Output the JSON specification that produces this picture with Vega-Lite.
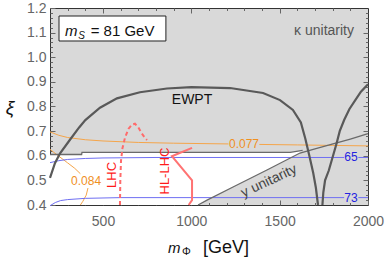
{
 "$schema": "https://vega.github.io/schema/vega-lite/v6.json",
 "width": 318, "height": 197,
 "autosize": {"type": "none"},
 "padding": {"left": 50, "top": 8, "right": 20, "bottom": 52},
 "background": "white",
 "config": {
  "view": {"fill": "#d9d9d9", "stroke": "#333333", "strokeWidth": 1},
  "font": "Liberation Sans",
  "axis": {"grid": false, "domain": false, "labelFont": "Liberation Sans", "labelFontSize": 14, "labelColor": "#666666", "tickColor": "#666666", "tickWidth": 1, "labelFlush": false, "labelOverlap": false}
 },
 "resolve": {"axis": {"x": "independent", "y": "independent"}},
 "datasets": {
  "white": [
   {"m": 200, "lo": 0.4, "hi": 0.605},
   {"m": 379, "lo": 0.4, "hi": 0.605},
   {"m": 381, "lo": 0.4, "hi": 0.614},
   {"m": 1038, "lo": 0.4, "hi": 0.614},
   {"m": 1089, "lo": 0.42, "hi": 0.614},
   {"m": 1236, "lo": 0.473, "hi": 0.614},
   {"m": 1428, "lo": 0.542, "hi": 0.614},
   {"m": 1560, "lo": 0.59, "hi": 0.615},
   {"m": 1615, "lo": 0.611, "hi": 0.619},
   {"m": 1630, "lo": 0.621, "hi": 0.622}
  ],
  "orange": [
   {"s": "a", "m": 200, "xi": 0.697}, {"s": "a", "m": 250, "xi": 0.683}, {"s": "a", "m": 300, "xi": 0.674}, {"s": "a", "m": 400, "xi": 0.665}, {"s": "a", "m": 500, "xi": 0.66}, {"s": "a", "m": 700, "xi": 0.654}, {"s": "a", "m": 900, "xi": 0.651}, {"s": "a", "m": 1100, "xi": 0.649}, {"s": "a", "m": 1210, "xi": 0.648},
   {"s": "b", "m": 1385, "xi": 0.646}, {"s": "b", "m": 1600, "xi": 0.644}, {"s": "b", "m": 1800, "xi": 0.642}, {"s": "b", "m": 2000, "xi": 0.64},
   {"s": "c", "m": 200, "xi": 0.626}, {"s": "c", "m": 250, "xi": 0.598}, {"s": "c", "m": 300, "xi": 0.571}, {"s": "c", "m": 340, "xi": 0.549}, {"s": "c", "m": 372, "xi": 0.527},
   {"s": "d", "m": 415, "xi": 0.469}, {"s": "d", "m": 405, "xi": 0.44}, {"s": "d", "m": 386, "xi": 0.415}, {"s": "d", "m": 372, "xi": 0.4}
  ],
  "blue": [
   {"s": "a", "m": 200, "xi": 0.572}, {"s": "a", "m": 250, "xi": 0.58}, {"s": "a", "m": 300, "xi": 0.585}, {"s": "a", "m": 400, "xi": 0.589}, {"s": "a", "m": 500, "xi": 0.591}, {"s": "a", "m": 800, "xi": 0.593}, {"s": "a", "m": 1865, "xi": 0.593},
   {"s": "b", "m": 1945, "xi": 0.593}, {"s": "b", "m": 2000, "xi": 0.593},
   {"s": "c", "m": 200, "xi": 0.397}, {"s": "c", "m": 230, "xi": 0.41}, {"s": "c", "m": 260, "xi": 0.418}, {"s": "c", "m": 300, "xi": 0.422}, {"s": "c", "m": 400, "xi": 0.427}, {"s": "c", "m": 600, "xi": 0.43}, {"s": "c", "m": 1865, "xi": 0.43},
   {"s": "d", "m": 1945, "xi": 0.43}, {"s": "d", "m": 2000, "xi": 0.43}
  ],
  "bounds": [
   {"s": "yu", "m": 1038, "xi": 0.4}, {"s": "yu", "m": 1089, "xi": 0.42}, {"s": "yu", "m": 1236, "xi": 0.473}, {"s": "yu", "m": 1428, "xi": 0.542}, {"s": "yu", "m": 1615, "xi": 0.611}, {"s": "yu", "m": 1700, "xi": 0.628}, {"s": "yu", "m": 1802, "xi": 0.648}, {"s": "yu", "m": 1900, "xi": 0.668}, {"s": "yu", "m": 2000, "xi": 0.69},
   {"s": "top", "m": 200, "xi": 0.605}, {"s": "top", "m": 379, "xi": 0.605}, {"s": "top", "m": 381, "xi": 0.614}, {"s": "top", "m": 1560, "xi": 0.614}, {"s": "top", "m": 1630, "xi": 0.622}
  ],
  "ewpt": [
   {"s": "L", "m": 200, "xi": 0.51}, {"s": "L", "m": 228, "xi": 0.57}, {"s": "L", "m": 257, "xi": 0.61}, {"s": "L", "m": 313, "xi": 0.665}, {"s": "L", "m": 365, "xi": 0.715}, {"s": "L", "m": 400, "xi": 0.745}, {"s": "L", "m": 483, "xi": 0.795}, {"s": "L", "m": 579, "xi": 0.833}, {"s": "L", "m": 709, "xi": 0.858}, {"s": "L", "m": 862, "xi": 0.873}, {"s": "L", "m": 1000, "xi": 0.879}, {"s": "L", "m": 1219, "xi": 0.875}, {"s": "L", "m": 1406, "xi": 0.855}, {"s": "L", "m": 1502, "xi": 0.826}, {"s": "L", "m": 1575, "xi": 0.786}, {"s": "L", "m": 1620, "xi": 0.735}, {"s": "L", "m": 1645, "xi": 0.67}, {"s": "L", "m": 1668, "xi": 0.6}, {"s": "L", "m": 1690, "xi": 0.53}, {"s": "L", "m": 1705, "xi": 0.47}, {"s": "L", "m": 1717, "xi": 0.4},
   {"s": "R", "m": 2000, "xi": 0.89}, {"s": "R", "m": 1960, "xi": 0.86}, {"s": "R", "m": 1930, "xi": 0.828}, {"s": "R", "m": 1895, "xi": 0.79}, {"s": "R", "m": 1865, "xi": 0.745}, {"s": "R", "m": 1840, "xi": 0.7}, {"s": "R", "m": 1822, "xi": 0.65}, {"s": "R", "m": 1800, "xi": 0.595}, {"s": "R", "m": 1778, "xi": 0.54}, {"s": "R", "m": 1757, "xi": 0.5}, {"s": "R", "m": 1747, "xi": 0.45}, {"s": "R", "m": 1742, "xi": 0.4}
  ],
  "lhc": [
   {"m": 596, "xi": 0.4}, {"m": 598, "xi": 0.5}, {"m": 602, "xi": 0.58}, {"m": 610, "xi": 0.63}, {"m": 625, "xi": 0.675}, {"m": 645, "xi": 0.71}, {"m": 665, "xi": 0.727}, {"m": 681, "xi": 0.73}, {"m": 700, "xi": 0.715}, {"m": 720, "xi": 0.69}, {"m": 735, "xi": 0.675}, {"m": 749, "xi": 0.664}
  ],
  "hllhc": [
   {"m": 1004, "xi": 0.632}, {"m": 890, "xi": 0.598}, {"m": 1004, "xi": 0.5}, {"m": 1004, "xi": 0.42}, {"m": 985, "xi": 0.4}
  ],
  "box": [{"m1": 251, "m2": 856, "y1": 1.1675, "y2": 1.066}],
  "t_orange": [{"m": 1298, "xi": 0.646, "t": "0.077"}, {"m": 404, "xi": 0.497, "t": "0.084"}],
  "t_blue": [{"m": 1904, "xi": 0.593, "t": "65"}, {"m": 1904, "xi": 0.43, "t": "73"}],
  "t_red": [{"m": 551, "xi": 0.522, "t": "LHC"}, {"m": 851, "xi": 0.538, "t": "HL-LHC"}],
  "t_ewpt": [{"m": 1004, "xi": 0.826, "t": "EWPT"}],
  "t_kappa": [{"m": 1751, "xi": 1.107, "t": "κ unitarity"}],
  "t_yu": [{"m": 1440, "xi": 0.497, "t": "y unitarity"}],
  "t_big": [{"m": 285, "xi": 1.086, "t": "m"}, {"m": 868, "xi": 0.205, "t": "m"}],
  "t_sub": [{"m": 360, "xi": 1.074, "t": "S"}],
  "t_phi": [{"m": 947, "xi": 0.196, "t": "Φ"}],
  "t_plain": [{"m": 430, "xi": 1.086, "t": "= 81 GeV"}],
  "t_gev": [{"m": 1066, "xi": 0.205, "t": "[GeV]"}],
  "t_xi": [{"m": -26, "xi": 0.794, "t": "ξ"}]
 },
 "layer": [
  {
   "data": {"name": "white"},
   "mark": {"type": "area", "color": "white"},
   "encoding": {
    "x": {"field": "m", "type": "quantitative", "scale": {"domain": [200, 2000], "nice": false, "zero": false}, "axis": {"orient": "bottom", "values": [500, 1000, 1500, 2000], "format": "d", "tickSize": -5, "labelPadding": 14, "title": null}},
    "y": {"field": "lo", "type": "quantitative", "scale": {"domain": [0.4, 1.2], "nice": false, "zero": false}, "axis": {"orient": "left", "values": [0.4, 0.5, 0.6, 0.7, 0.8, 0.9, 1.0, 1.1, 1.2], "format": ".1f", "tickSize": -5, "labelPadding": 9, "title": null}},
    "y2": {"field": "hi"}
   }
  },
  {
   "data": {"name": "orange"},
   "mark": {"type": "line", "color": "#f5a54a", "strokeWidth": 1},
   "encoding": {
    "x": {"field": "m", "type": "quantitative", "axis": {"orient": "bottom", "values": [200, 300, 400, 600, 700, 800, 900, 1100, 1200, 1300, 1400, 1600, 1700, 1800, 1900], "tickSize": -2.5, "labels": false, "title": null}},
    "y": {"field": "xi", "type": "quantitative", "axis": {"orient": "left", "values": [0.42, 0.44, 0.46, 0.48, 0.52, 0.54, 0.56, 0.58, 0.62, 0.64, 0.66, 0.68, 0.72, 0.74, 0.76, 0.78, 0.82, 0.84, 0.86, 0.88, 0.92, 0.94, 0.96, 0.98, 1.02, 1.04, 1.06, 1.08, 1.12, 1.14, 1.16, 1.18], "tickSize": -2.5, "labels": false, "title": null}},
    "detail": {"field": "s"},
    "order": {"value": null}
   }
  },
  {
   "data": {"name": "blue"},
   "mark": {"type": "line", "color": "#6f6ff2", "strokeWidth": 1},
   "encoding": {
    "x": {"field": "m", "type": "quantitative", "axis": {"orient": "top", "values": [500, 1000, 1500], "tickSize": -5, "labels": false, "title": null}},
    "y": {"field": "xi", "type": "quantitative", "axis": {"orient": "right", "values": [0.5, 0.6, 0.7, 0.8, 0.9, 1.0, 1.1], "tickSize": -5, "labels": false, "title": null}},
    "detail": {"field": "s"},
    "order": {"value": null}
   }
  },
  {
   "data": {"name": "bounds"},
   "mark": {"type": "line", "color": "#6a6a6a", "strokeWidth": 1.3},
   "encoding": {
    "x": {"field": "m", "type": "quantitative", "axis": {"orient": "top", "values": [300, 400, 600, 700, 800, 900, 1100, 1200, 1300, 1400, 1600, 1700, 1800, 1900], "tickSize": -2.5, "labels": false, "title": null}},
    "y": {"field": "xi", "type": "quantitative", "axis": {"orient": "right", "values": [0.42, 0.44, 0.46, 0.48, 0.52, 0.54, 0.56, 0.58, 0.62, 0.64, 0.66, 0.68, 0.72, 0.74, 0.76, 0.78, 0.82, 0.84, 0.86, 0.88, 0.92, 0.94, 0.96, 0.98, 1.02, 1.04, 1.06, 1.08, 1.12, 1.14, 1.16, 1.18], "tickSize": -2.5, "labels": false, "title": null}},
    "detail": {"field": "s"},
    "order": {"value": null}
   }
  },
  {
   "data": {"name": "ewpt"},
   "mark": {"type": "line", "color": "#595959", "strokeWidth": 2.2},
   "encoding": {
    "x": {"field": "m", "type": "quantitative", "axis": null},
    "y": {"field": "xi", "type": "quantitative", "axis": null},
    "detail": {"field": "s"},
    "order": {"value": null}
   }
  },
  {
   "data": {"name": "lhc"},
   "mark": {"type": "line", "color": "#ff6b6b", "strokeWidth": 2, "strokeDash": [4, 3]},
   "encoding": {
    "x": {"field": "m", "type": "quantitative", "axis": null},
    "y": {"field": "xi", "type": "quantitative", "axis": null},
    "order": {"value": null}
   }
  },
  {
   "data": {"name": "hllhc"},
   "mark": {"type": "line", "color": "#ff7373", "strokeWidth": 2},
   "encoding": {
    "x": {"field": "m", "type": "quantitative", "axis": null},
    "y": {"field": "xi", "type": "quantitative", "axis": null},
    "order": {"value": null}
   }
  },
  {
   "data": {"name": "box"},
   "mark": {"type": "rect", "fill": "white", "stroke": "#222222", "strokeWidth": 1},
   "encoding": {
    "x": {"field": "m1", "type": "quantitative", "axis": null},
    "x2": {"field": "m2"},
    "y": {"field": "y1", "type": "quantitative", "axis": null},
    "y2": {"field": "y2"}
   }
  },
  {
   "data": {"name": "t_orange"},
   "mark": {"type": "text", "color": "#f0901e", "fontSize": 12, "align": "center", "baseline": "middle"},
   "encoding": {"x": {"field": "m", "type": "quantitative", "axis": null}, "y": {"field": "xi", "type": "quantitative", "axis": null}, "text": {"field": "t"}}
  },
  {
   "data": {"name": "t_blue"},
   "mark": {"type": "text", "color": "#2424e0", "fontSize": 12, "align": "center", "baseline": "middle"},
   "encoding": {"x": {"field": "m", "type": "quantitative", "axis": null}, "y": {"field": "xi", "type": "quantitative", "axis": null}, "text": {"field": "t"}}
  },
  {
   "data": {"name": "t_red"},
   "mark": {"type": "text", "color": "#ff1a1a", "fontSize": 13, "align": "center", "baseline": "middle", "angle": 270},
   "encoding": {"x": {"field": "m", "type": "quantitative", "axis": null}, "y": {"field": "xi", "type": "quantitative", "axis": null}, "text": {"field": "t"}}
  },
  {
   "data": {"name": "t_ewpt"},
   "mark": {"type": "text", "color": "#111111", "fontSize": 14, "align": "center", "baseline": "middle"},
   "encoding": {"x": {"field": "m", "type": "quantitative", "axis": null}, "y": {"field": "xi", "type": "quantitative", "axis": null}, "text": {"field": "t"}}
  },
  {
   "data": {"name": "t_kappa"},
   "mark": {"type": "text", "color": "#555555", "fontSize": 14, "align": "center", "baseline": "middle"},
   "encoding": {"x": {"field": "m", "type": "quantitative", "axis": null}, "y": {"field": "xi", "type": "quantitative", "axis": null}, "text": {"field": "t"}}
  },
  {
   "data": {"name": "t_yu"},
   "mark": {"type": "text", "color": "#444444", "fontSize": 14, "align": "center", "baseline": "middle", "angle": 335},
   "encoding": {"x": {"field": "m", "type": "quantitative", "axis": null}, "y": {"field": "xi", "type": "quantitative", "axis": null}, "text": {"field": "t"}}
  },
  {
   "data": {"name": "t_big"},
   "mark": {"type": "text", "color": "#111111", "fontSize": 15, "fontStyle": "italic", "align": "left", "baseline": "alphabetic"},
   "encoding": {"x": {"field": "m", "type": "quantitative", "axis": null}, "y": {"field": "xi", "type": "quantitative", "axis": null}, "text": {"field": "t"}}
  },
  {
   "data": {"name": "t_sub"},
   "mark": {"type": "text", "color": "#111111", "fontSize": 10, "fontStyle": "italic", "align": "left", "baseline": "alphabetic"},
   "encoding": {"x": {"field": "m", "type": "quantitative", "axis": null}, "y": {"field": "xi", "type": "quantitative", "axis": null}, "text": {"field": "t"}}
  },
  {
   "data": {"name": "t_phi"},
   "mark": {"type": "text", "color": "#111111", "fontSize": 11, "align": "left", "baseline": "alphabetic"},
   "encoding": {"x": {"field": "m", "type": "quantitative", "axis": null}, "y": {"field": "xi", "type": "quantitative", "axis": null}, "text": {"field": "t"}}
  },
  {
   "data": {"name": "t_plain"},
   "mark": {"type": "text", "color": "#111111", "fontSize": 15, "align": "left", "baseline": "alphabetic"},
   "encoding": {"x": {"field": "m", "type": "quantitative", "axis": null}, "y": {"field": "xi", "type": "quantitative", "axis": null}, "text": {"field": "t"}}
  },
  {
   "data": {"name": "t_gev"},
   "mark": {"type": "text", "color": "#111111", "fontSize": 18, "align": "left", "baseline": "alphabetic"},
   "encoding": {"x": {"field": "m", "type": "quantitative", "axis": null}, "y": {"field": "xi", "type": "quantitative", "axis": null}, "text": {"field": "t"}}
  },
  {
   "data": {"name": "t_xi"},
   "mark": {"type": "text", "color": "#111111", "fontSize": 19, "fontStyle": "italic", "align": "center", "baseline": "middle"},
   "encoding": {"x": {"field": "m", "type": "quantitative", "axis": null}, "y": {"field": "xi", "type": "quantitative", "axis": null}, "text": {"field": "t"}}
  }
 ]
}
